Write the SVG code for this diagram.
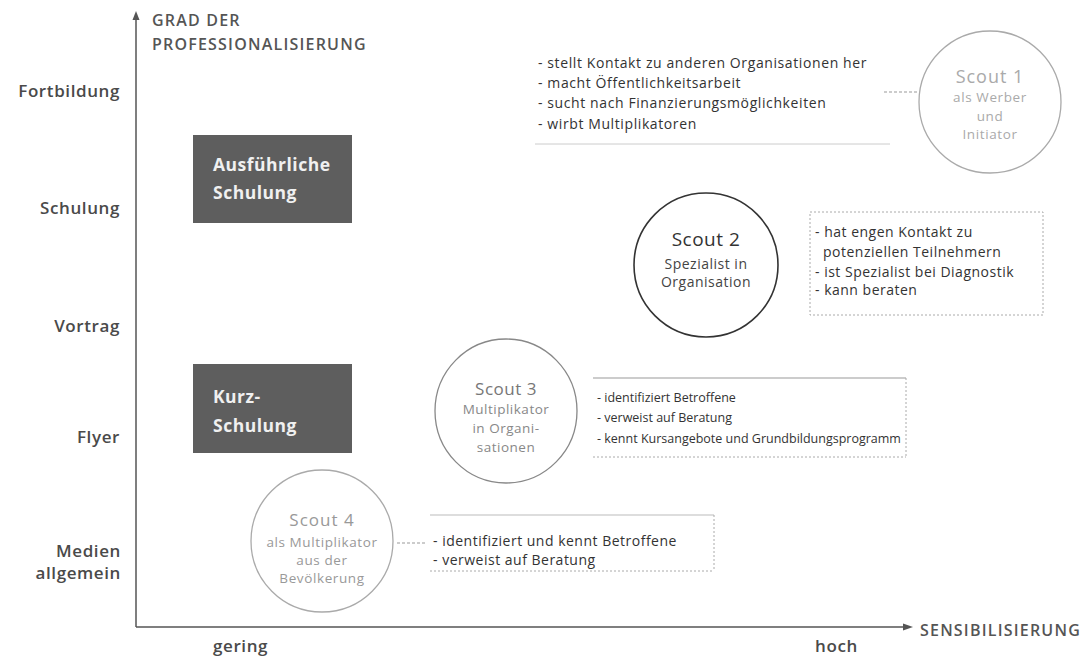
<svg xmlns="http://www.w3.org/2000/svg" width="1090" height="656" viewBox="0 0 1090 656">
<defs>
<style>
.ax{stroke:#555;stroke-width:1.5;fill:none}
.lbl{font-family:"Open Sans","Liberation Sans",sans-serif;font-size:17px;fill:#4a4a4a;font-weight:600;letter-spacing:0.6px}
.cap{font-family:"Open Sans","Liberation Sans",sans-serif;font-size:16px;fill:#555;font-weight:600;letter-spacing:1.2px}
.boxr{fill:#5e5e5e}
.boxt{font-family:"Open Sans","Liberation Sans",sans-serif;font-size:17.5px;fill:#f0f0f0;font-weight:700;letter-spacing:0.5px}
.t{font-family:"Open Sans","Liberation Sans",sans-serif;font-size:12px;fill:#333}
.t14{font-size:14px;letter-spacing:0.6px}
.t2{font-size:14px;letter-spacing:0.5px}
.t3{font-size:12.5px}
.ct{font-family:"Open Sans","Liberation Sans",sans-serif;text-anchor:middle}
.frame{fill:none;stroke:#aaa;stroke-width:1;stroke-dasharray:2 2}
.con{stroke:#999;stroke-width:1;stroke-dasharray:3 2;fill:none}
</style>
</defs>
<rect width="1090" height="656" fill="#fff"/>
<g id="axes">
<line class="ax" x1="136" y1="18" x2="136" y2="627"/>
<polygon points="136,11 132.5,20 139.5,20" fill="#555"/>
<line class="ax" x1="136" y1="627" x2="904" y2="627"/>
<polygon points="913,627 903,623.5 903,630.5" fill="#555"/>
<text class="cap" x="152" y="26">GRAD DER</text>
<text class="cap" x="152" y="50">PROFESSIONALISIERUNG</text>
<text class="cap" x="920" y="636" letter-spacing="0.9">SENSIBILISIERUNG</text>
<text class="lbl" x="213" y="652" font-weight="400">gering</text>
<text class="lbl" x="815" y="652" font-weight="400">hoch</text>
</g>
<g id="ylabels" text-anchor="end">
<text class="lbl" x="120" y="97">Fortbildung</text>
<text class="lbl" x="120" y="214">Schulung</text>
<text class="lbl" x="120" y="332">Vortrag</text>
<text class="lbl" x="120" y="443">Flyer</text>
<text class="lbl" x="121" y="557">Medien</text>
<text class="lbl" x="121" y="579">allgemein</text>
</g>
<g id="box-ausfuehrliche">
<rect class="boxr" x="193" y="135" width="159" height="88"/>
<text class="boxt" x="213" y="171">Ausführliche</text>
<text class="boxt" x="213" y="199">Schulung</text>
</g>
<g id="box-kurz">
<rect class="boxr" x="193" y="364" width="159" height="89"/>
<text class="boxt" x="213" y="403">Kurz-</text>
<text class="boxt" x="213" y="432">Schulung</text>
</g>
<g id="connectors">
<line class="con" x1="884" y1="92" x2="917" y2="92"/>
<line class="con" x1="397" y1="543" x2="427" y2="543"/>
</g>
<g id="scout1">
<circle cx="990" cy="102" r="71" fill="none" stroke="#aaa" stroke-width="1.3"/>
<text class="ct" x="990" y="83" font-size="18" fill="#aaa" letter-spacing="1">Scout 1</text>
<text class="ct" x="990" y="102" font-size="13.5" fill="#aaa" letter-spacing="0.6">als Werber</text>
<text class="ct" x="990" y="121" font-size="13.5" fill="#aaa" letter-spacing="0.6">und</text>
<text class="ct" x="990" y="139" font-size="13.5" fill="#aaa" letter-spacing="0.6">Initiator</text>
</g>
<g id="scout1-text">
<line x1="535" y1="144" x2="890" y2="144" stroke="#ccc" stroke-width="1"/>
<text class="t t14" x="538" y="68">- stellt Kontakt zu anderen Organisationen her</text>
<text class="t t14" x="538" y="88">- macht Öffentlichkeitsarbeit</text>
<text class="t t14" x="538" y="108">- sucht nach Finanzierungsmöglichkeiten</text>
<text class="t t14" x="538" y="129">- wirbt Multiplikatoren</text>
</g>
<g id="scout2">
<circle cx="706" cy="265" r="72" fill="none" stroke="#333" stroke-width="1.6"/>
<text class="ct" x="706" y="246" font-size="19" fill="#333" letter-spacing="0.5">Scout 2</text>
<text class="ct" x="706" y="269" font-size="14" fill="#444" letter-spacing="0.5">Spezialist in</text>
<text class="ct" x="706" y="287" font-size="14" fill="#444" letter-spacing="0.5">Organisation</text>
</g>
<g id="scout2-text">
<rect class="frame" x="810" y="212" width="233" height="103"/>
<text class="t t2" x="815" y="237">- hat engen Kontakt zu</text>
<text class="t t2" x="823" y="257">potenziellen Teilnehmern</text>
<text class="t t2" x="815" y="277">- ist Spezialist bei Diagnostik</text>
<text class="t t2" x="815" y="295">- kann beraten</text>
</g>
<g id="scout3">
<ellipse cx="506" cy="411" rx="71" ry="72" fill="none" stroke="#888" stroke-width="1.3"/>
<text class="ct" x="506" y="395" font-size="17" fill="#777" letter-spacing="0.5">Scout 3</text>
<text class="ct" x="506" y="414" font-size="13.5" fill="#888" letter-spacing="0.5">Multiplikator</text>
<text class="ct" x="506" y="433" font-size="13.5" fill="#888" letter-spacing="0.5">in Organi-</text>
<text class="ct" x="506" y="452" font-size="13.5" fill="#888" letter-spacing="0.5">sationen</text>
</g>
<g id="scout3-text">
<line x1="593" y1="378" x2="906" y2="378" stroke="#999" stroke-width="1"/>
<line x1="906" y1="378" x2="906" y2="457" class="frame"/>
<line x1="593" y1="457" x2="906" y2="457" class="frame"/>
<text class="t t3" x="597" y="402">- identifiziert Betroffene</text>
<text class="t t3" x="597" y="422">- verweist auf Beratung</text>
<text class="t t3" x="597" y="443">- kennt Kursangebote und Grundbildungsprogramm</text>
</g>
<g id="scout4">
<circle cx="322" cy="541" r="71" fill="none" stroke="#aaa" stroke-width="1.3"/>
<text class="ct" x="322" y="526" font-size="17" fill="#999" letter-spacing="1">Scout 4</text>
<text class="ct" x="322" y="547" font-size="13.5" fill="#999" letter-spacing="0.6">als Multiplikator</text>
<text class="ct" x="322" y="565" font-size="13.5" fill="#999" letter-spacing="0.6">aus der</text>
<text class="ct" x="322" y="583" font-size="13.5" fill="#999" letter-spacing="0.6">Bevölkerung</text>
</g>
<g id="scout4-text">
<line x1="430" y1="515" x2="714" y2="515" stroke="#bbb" stroke-width="1"/>
<line x1="714" y1="515" x2="714" y2="571" class="frame"/>
<line x1="430" y1="571" x2="714" y2="571" class="frame"/>
<text class="t t2" x="433" y="546">- identifiziert und kennt Betroffene</text>
<text class="t t2" x="433" y="565">- verweist auf Beratung</text>
</g>
</svg>
